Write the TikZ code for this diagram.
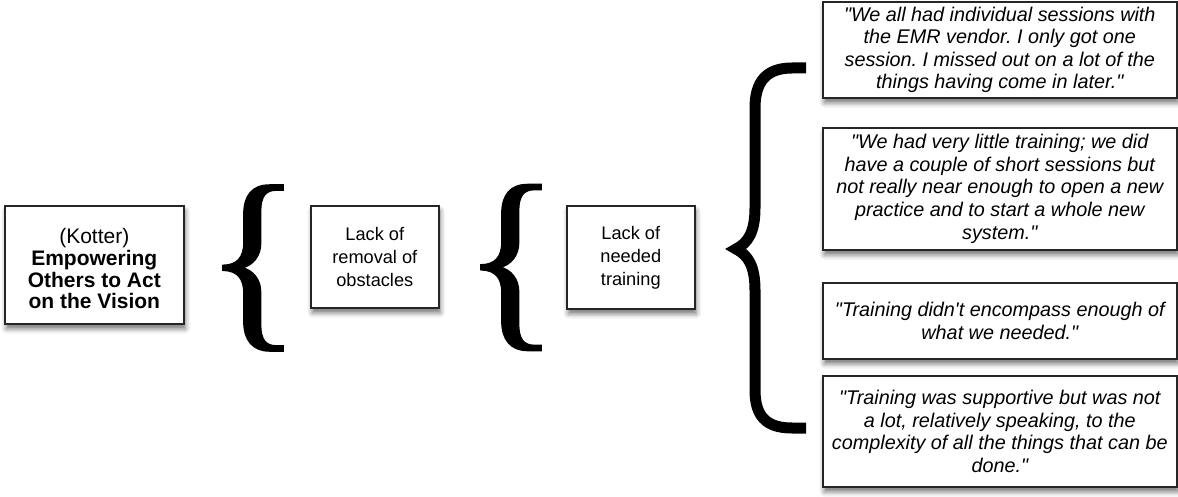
\documentclass[tikz,border=0pt]{standalone}
\usepackage{fontspec}
\setmainfont{Liberation Sans}
\newfontfamily\bracefont[FakeBold=1]{Liberation Serif}
\usetikzlibrary{shadows.blur}
\newcommand{\dq}{\textquotedbl}
\frenchspacing

\begin{document}
\begin{tikzpicture}[x=1pt,y=-1pt,
  box/.style={draw=black!85, line width=1.6pt, fill=white, align=center,
    inner sep=0pt, anchor=north west,
    blur shadow={shadow xshift=1.5pt, shadow yshift=-5pt,
      shadow blur radius=5pt, shadow opacity=55}},
  plain/.style={box, font=\fontsize{18.2}{23}\selectfont},
  quote/.style={box, minimum width=354pt, font=\fontsize{19.8}{22.6}\selectfont\itshape},
  glyphbrace/.style={inner sep=0pt, outer sep=0pt, font=\fontsize{200}{200}\bracefont},
  bigbrace/.style={line width=11pt, line cap=butt, line join=miter}]

\useasboundingbox (0,0) rectangle (1178,497);

% concept boxes
\node[box, minimum width=179pt, minimum height=118pt] (kotter) at (4,205) {};
\node[align=center, inner sep=0pt, font=\fontsize{21}{21.7}\selectfont\bfseries]
  (kottertext) at ([yshift=-4pt]kotter.center)
  {{\mdseries (Kotter)}\\Empowering\\Others to Act\\on the Vision};
\node[plain, minimum width=128pt, minimum height=102pt] (obstacles) at (310,205)
  {Lack of\\removal of\\obstacles};
\node[plain, minimum width=128pt, minimum height=103pt] (training) at (566,205)
  {Lack of\\needed\\training};

% quotes
\node[quote, minimum height=96pt] (q1) at (822,1)
  {\dq We all had individual sessions with\\the EMR vendor. I only got one\\session. I missed out on a lot of the\\things having come in later.\dq};
\node[quote, minimum height=122pt] (q2) at (822,127)
  {\dq We had very little training; we did\\have a couple of short sessions but\\not really near enough to open a new\\practice and to start a whole new\\system.\dq};
\node[quote, minimum height=76pt] (q3) at (822,282)
  {\dq Training didn\textquotesingle t encompass enough of\\what we needed.\dq};
\node[quote, minimum height=111pt] (q4) at (822,375)
  {\dq Training was supportive but was not\\a lot, relatively speaking, to the\\complexity of all the things that can be\\done.\dq};

% small braces
\node[glyphbrace] (brace1) at (253,268) {\{};
\node[glyphbrace] (brace2) at (511,267.5) {\{};

% large brace gathering the quotes
\coordinate (bt) at (806,68);
\coordinate (bb) at (806,428);
\coordinate (tip) at (736,249);
\draw[bigbrace] (bt) -- (792,68)
  .. controls (766,68) and (755,82) .. (755,108) -- (755,208)
  .. controls (755,232) and (748,243) .. (tip)
  .. controls (748,255) and (755,266) .. (755,290) -- (755,390)
  .. controls (755,416) and (766,428) .. (792,428) -- (bb);
\end{tikzpicture}
\end{document}
